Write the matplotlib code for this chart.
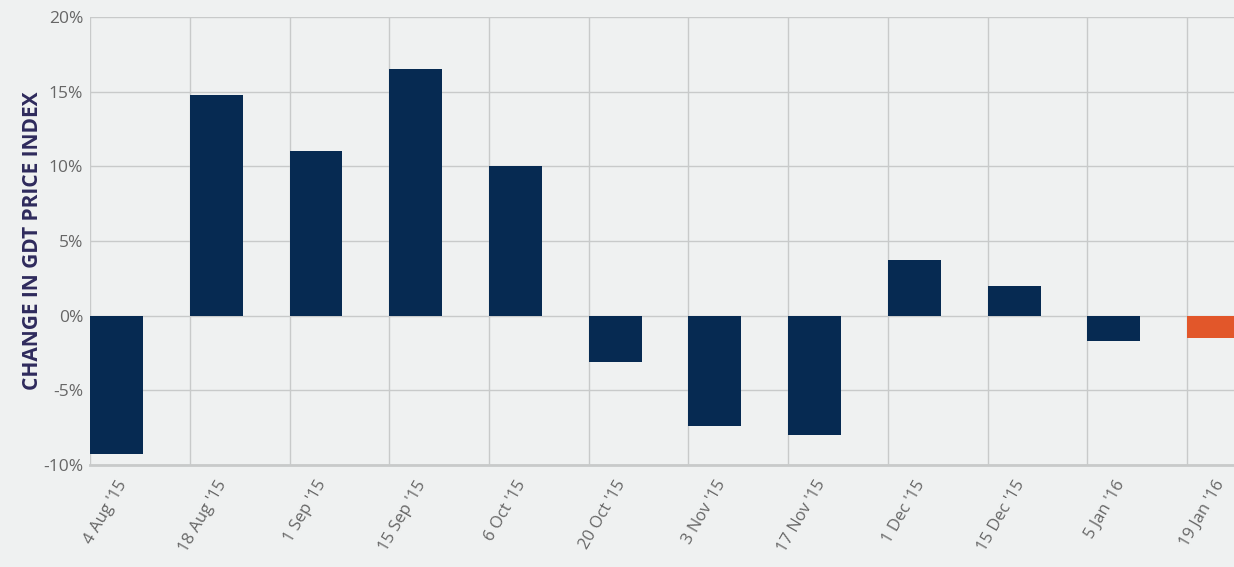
import numpy as np
import matplotlib.pyplot as plt

# GDT auction dates and price index change (%)
dates = ["4 Aug '15", "18 Aug '15", "1 Sep '15", "15 Sep '15", "6 Oct '15", "20 Oct '15",
         "3 Nov '15", "17 Nov '15", "1 Dec '15", "15 Dec '15", "5 Jan '16", "19 Jan '16"]
change = [-9.3, 14.8, 11.0, 16.5, 10.0, -3.1, -7.4, -8.0, 3.7, 2.0, -1.7, -1.5]
yticks = [-10, -5, 0, 5, 10, 15, 20]

navy = '#062a52'
orange = '#e2572a'
bg = '#eff1f1'
colors = [navy] * (len(change) - 1) + [orange]

plt.rcParams['font.family'] = ['Open Sans', 'DejaVu Sans']

fig = plt.figure(figsize=(12.34, 5.67), dpi=100, facecolor=bg)
ax = fig.add_axes([0.073, 0.18, 0.927, 0.79], facecolor=bg)

x = np.arange(len(dates))
bw = 0.53
ax.bar(x, change, width=bw, align='edge', color=colors, zorder=3)

ax.set_xlim(0, 11.47)
ax.set_ylim(-10, 20)
ax.set_yticks(yticks)
ax.set_yticklabels([f'{v}%' for v in yticks], color='#666666', fontsize=12.5)

# gridlines sit on the category edges, labels under the bars
ax.set_xticks(x)
ax.set_xticklabels([])
ax.set_xticks(x + bw / 2, minor=True)
ax.set_xticklabels(dates, minor=True, rotation=60, ha='right', rotation_mode='anchor',
                   color='#666666', fontsize=12)
ax.tick_params(axis='both', which='both', length=0)
ax.tick_params(axis='x', which='minor', pad=9)
ax.tick_params(axis='y', pad=5)

ax.grid(True, which='major', color='#c8caca', linewidth=1, zorder=0)
for s in ['top', 'right', 'left']:
    ax.spines[s].set_visible(False)
ax.spines['bottom'].set_color('#c8caca')
ax.spines['bottom'].set_linewidth(2)

ax.set_ylabel('CHANGE IN GDT PRICE INDEX', color='#2e2a5c', fontweight='bold', fontsize=15, labelpad=0)

fig.savefig('out.png', dpi=100, facecolor=bg)
